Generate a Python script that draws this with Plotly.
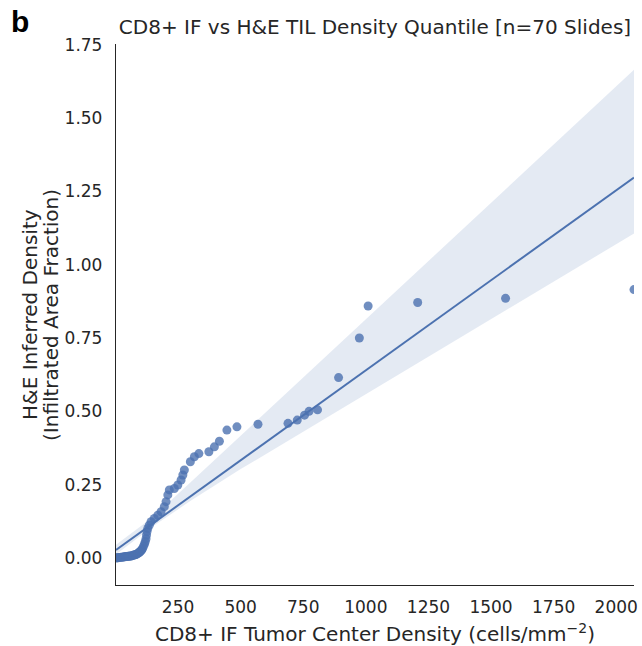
import numpy as np
import plotly.graph_objects as go

# CD8+ IF tumor center density (cells/mm^-2), sorted quantiles
if_density = [2, 6, 10, 14, 18, 22, 26, 30, 34, 38, 42, 46, 50, 54, 58, 62, 66, 70,
              74, 78, 82, 86, 90, 93, 96, 99, 102, 105,
              108, 112, 116, 119, 122, 124, 126, 129, 135, 142,
              155, 169, 182, 195, 202, 209, 215, 235, 249, 262,
              269, 275, 299, 315, 333, 373, 395, 415, 445, 485,
              569, 689, 726, 755, 773, 807, 891, 974, 1009, 1207,
              1558, 2071]
# H&E inferred density (infiltrated area fraction), sorted quantiles
he_density = [0.000, 0.001, 0.001, 0.002, 0.002, 0.003, 0.003, 0.003, 0.004, 0.004,
              0.005, 0.005, 0.006, 0.006, 0.007, 0.007, 0.008, 0.009, 0.010, 0.011,
              0.012, 0.014, 0.016, 0.018, 0.020, 0.022, 0.025, 0.028,
              0.032, 0.040, 0.048, 0.056, 0.066, 0.078, 0.090, 0.101, 0.112, 0.124,
              0.135, 0.146, 0.158, 0.175, 0.192, 0.215, 0.232, 0.237, 0.249, 0.266,
              0.283, 0.300, 0.328, 0.345, 0.356, 0.362, 0.379, 0.398, 0.436, 0.447,
              0.456, 0.459, 0.470, 0.487, 0.500, 0.505, 0.615, 0.750, 0.859, 0.871,
              0.885, 0.915]

# Confidence band
ci_x = [2, 150, 300, 500, 750, 1000, 1250, 1500, 1750, 2071]
ci_low = [0.012, 0.108, 0.195, 0.303, 0.431, 0.559, 0.686, 0.814, 0.942, 1.106]
ci_high = [0.045, 0.140, 0.258, 0.417, 0.615, 0.814, 1.012, 1.211, 1.409, 1.664]

y_ticks = [0.0, 0.25, 0.5, 0.75, 1.0, 1.25, 1.5, 1.75]
x_ticks = [250, 500, 750, 1000, 1250, 1500, 1750, 2000]

BLUE = "#4c72b0"
TXT = "#262626"
FONT = "DejaVu Sans"

# plot area in pixels
L, R, T, B = 116, 634, 44, 585
PW, PH = R - L, B - T


def px_x(p):
    return (p - L) / PW


def px_y(p):
    return (B - p) / PH


x = np.array(if_density, dtype=float)
y = np.array(he_density, dtype=float)
slope, intercept = np.polyfit(x, y, 1)
line_x = np.array([x.min(), x.max()])
line_y = intercept + slope * line_x

fig = go.Figure()
fig.add_trace(go.Scatter(x=x, y=y, mode="markers",
                         marker=dict(size=9, color="rgba(76,114,176,0.8)", line=dict(width=0)),
                         hoverinfo="skip", showlegend=False))
fig.add_trace(go.Scatter(x=ci_x + ci_x[::-1], y=ci_high + ci_low[::-1], mode="lines",
                         fill="toself", fillcolor="rgba(76,114,176,0.15)",
                         line=dict(width=0), hoverinfo="skip", showlegend=False))
fig.add_trace(go.Scatter(x=line_x, y=line_y, mode="lines",
                         line=dict(color=BLUE, width=2), hoverinfo="skip", showlegend=False))

fig.update_layout(
    width=642, height=646,
    margin=dict(l=L, r=642 - R, t=T, b=646 - B, autoexpand=False),
    paper_bgcolor="white", plot_bgcolor="white",
    font=dict(family=FONT, color=TXT, size=17),
    title=dict(text="CD8+ IF vs H&E TIL Density Quantile [n=70 Slides]",
               x=375 / 642, xanchor="center", y=1 - 27 / 646, yanchor="middle",
               font=dict(size=20, color=TXT, family=FONT)),
    xaxis=dict(range=[x.min(), x.max()], tickvals=x_ticks, ticks="",
               ticklabelstandoff=6, showgrid=False, zeroline=False,
               showline=True, linecolor=TXT, linewidth=1.3,
               tickfont=dict(size=17, color=TXT, family=FONT)),
    yaxis=dict(range=[-0.092, 1.752], tickvals=y_ticks, tickformat=".2f", ticks="",
               ticklabelstandoff=9, showgrid=False, zeroline=False,
               showline=True, linecolor=TXT, linewidth=1.3,
               tickfont=dict(size=17, color=TXT, family=FONT)),
)

# axis titles as annotations for precise placement
fig.add_annotation(text="CD8+ IF Tumor Center Density (cells/mm<sup>−2</sup>)",
                   xref="paper", yref="paper", x=px_x(375), y=px_y(633),
                   xanchor="center", yanchor="middle", showarrow=False,
                   font=dict(size=20, color=TXT, family=FONT))
fig.add_annotation(text="H&E Inferred Density",
                   xref="paper", yref="paper", x=px_x(30), y=px_y(315),
                   xanchor="center", yanchor="middle", textangle=-90, showarrow=False,
                   font=dict(size=20, color=TXT, family=FONT))
fig.add_annotation(text="(Infiltrated Area Fraction)",
                   xref="paper", yref="paper", x=px_x(51), y=px_y(315),
                   xanchor="center", yanchor="middle", textangle=-90, showarrow=False,
                   font=dict(size=20, color=TXT, family=FONT))
fig.add_annotation(text="<b>b</b>",
                   xref="paper", yref="paper", x=px_x(20), y=px_y(22),
                   xanchor="center", yanchor="middle", showarrow=False,
                   font=dict(size=30, color="black", family="Liberation Sans"))
fig.write_html("out.html")
